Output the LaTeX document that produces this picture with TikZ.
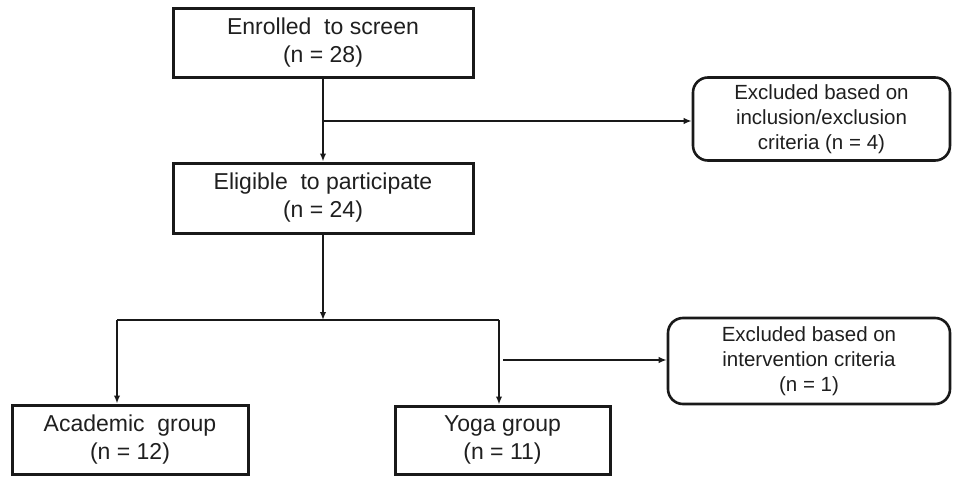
\documentclass[tikz,border=0pt]{standalone}
\usepackage{fontspec}
\setmainfont{Liberation Sans}
\usetikzlibrary{arrows.meta}
\begin{document}
\begin{tikzpicture}[x=1pt,y=-1pt,
  mainbox/.style={draw=black!90, line width=3pt, align=center, inner sep=0pt,
    font=\fontsize{23}{28}\selectfont, text=black!88},
  exbox/.style={draw=black!90, line width=2.6pt, rounded corners=15pt, align=center, inner sep=0pt,
    font=\fontsize{20.5}{25}\selectfont, text=black!88},
  conn/.style={draw=black!90, line width=2pt},
  arr/.style={conn, -{Latex[length=8pt,width=6.5pt]}}]
\useasboundingbox (0,0) rectangle (954,477);
\node[mainbox, minimum width=300pt, minimum height=69pt] (enr) at (323,42.5) {Enrolled\ \ to screen\\(n = 28)};
\node[mainbox, minimum width=300pt, minimum height=70pt] (elig) at (323,198) {Eligible\ \ to participate\\(n = 24)};
\node[exbox, minimum width=257pt, minimum height=83pt] (exc1) at (821.5,119) {Excluded based on\\inclusion/exclusion\\criteria (n = 4)};
\node[mainbox, minimum width=236pt, minimum height=69pt] (acad) at (130,439.5) {Academic\ \ group\\(n = 12)};
\node[mainbox, minimum width=215pt, minimum height=68pt] (yoga) at (502.5,440) {Yoga group\\(n = 11)};
\node[exbox, minimum width=282pt, minimum height=86pt] (exc2) at (809,361) {Excluded based on\\intervention criteria\\(n = 1)};
\coordinate (b1) at (323,121);
\coordinate (split) at (323,320);
\coordinate (sl) at (117,320);
\coordinate (sr) at (499,320);
\coordinate (b2) at (503,360);
\draw[arr] (enr.south) -- (elig.north);
\draw[arr] (b1) -- (b1 -| exc1.west);
\draw[arr] (elig.south) -- (split);
\draw[conn] (sl) -- (sr);
\draw[arr] (sl) -- (sl |- acad.north);
\draw[arr] (sr) -- (sr |- yoga.north);
\draw[arr] (b2) -- (b2 -| exc2.west);
\end{tikzpicture}
\end{document}
